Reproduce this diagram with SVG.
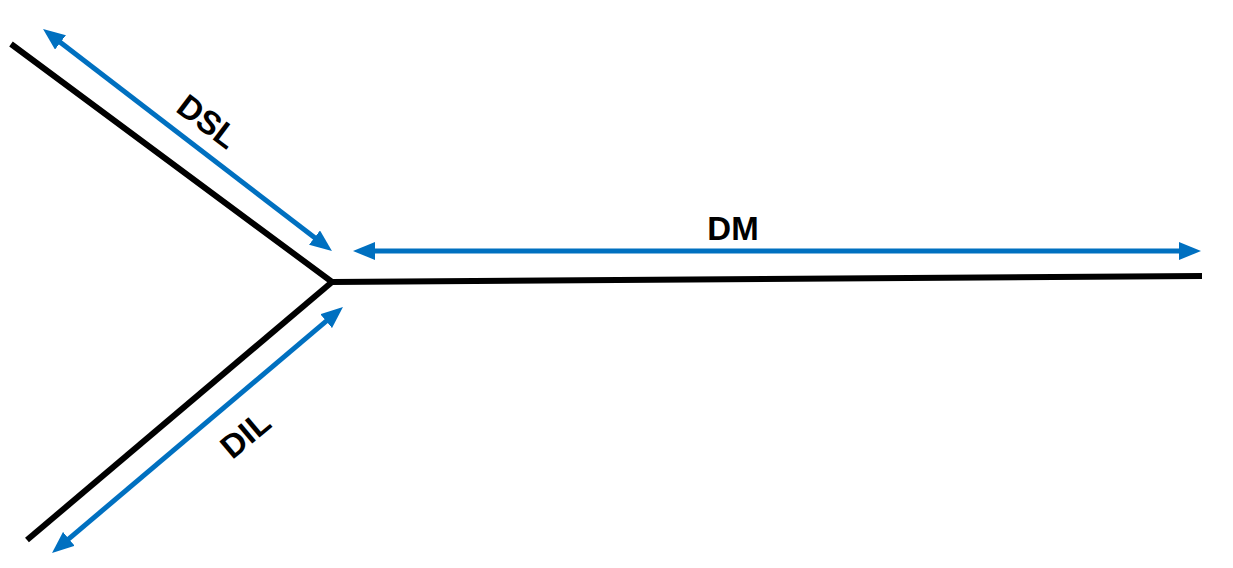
<svg xmlns="http://www.w3.org/2000/svg" width="1233" height="568" viewBox="0 0 1233 568">
<style>
.br{fill:none;stroke:#000;stroke-width:6;stroke-linejoin:miter}
.dim{fill:none;stroke:#0070C0;stroke-width:5;marker-start:url(#ah);marker-end:url(#ah)}
.lbl{font-family:"Liberation Sans",Arial,sans-serif;font-weight:bold;font-size:33px;fill:#000;text-anchor:middle}
</style>
<defs>
<marker id="ah" viewBox="0 0 22 18" refX="2" refY="9" markerWidth="22" markerHeight="18" markerUnits="userSpaceOnUse" orient="auto-start-reverse">
<path d="M0,0 L22,9 L0,18 z" fill="#0070C0"/>
</marker>
</defs>
<g id="branches">
<polyline class="br" points="11,44 332,282 1202,276"/>
<line class="br" x1="332" y1="282" x2="27" y2="540"/>
</g>
<g id="connectors">
<line class="dim" x1="58.9" y1="41.2" x2="316.1" y2="238.8"/>
<line class="dim" x1="373" y1="251" x2="1181" y2="251"/>
<line class="dim" x1="327.7" y1="319.9" x2="67.3" y2="540.1"/>
</g>
<g id="label-dsl"><text class="lbl" transform="translate(208,121) rotate(37)" y="12">DSL</text></g>
<g id="label-dm"><text class="lbl" x="733" y="240">DM</text></g>
<g id="label-dil"><text class="lbl" transform="translate(245,434) rotate(-40)" y="12">DIL</text></g>
</svg>
